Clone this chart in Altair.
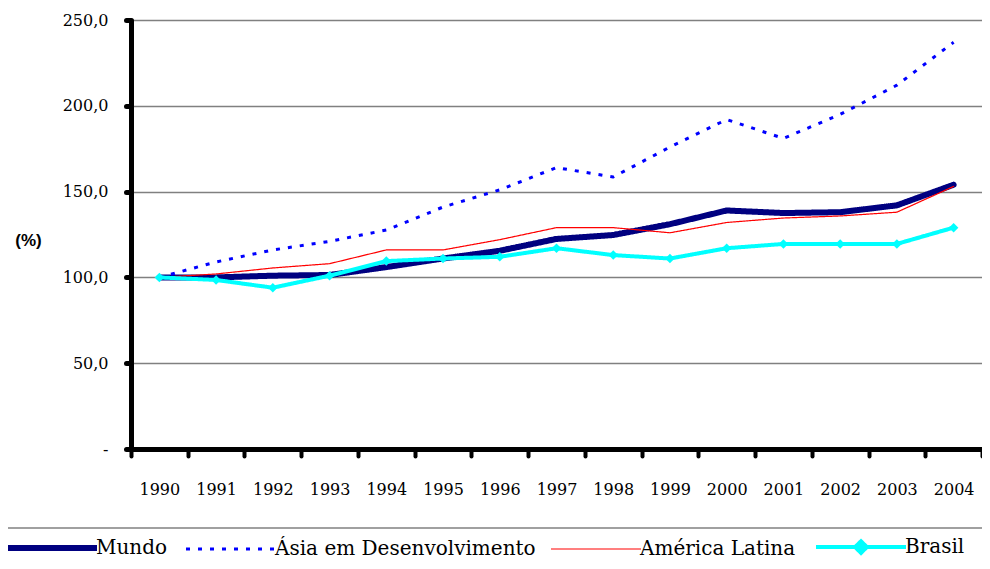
import altair as alt
import pandas as pd

years = [str(y) for y in range(1990, 2005)]
series_names = ["Mundo", "Ásia em Desenvolvimento", "América Latina", "Brasil"]
mundo = [100, 100, 101, 101.4, 106, 111, 115.5, 122.4, 124.7, 131, 139, 137.5, 138, 142, 154]
asia = [100, 109, 116, 121, 127.6, 141, 151, 164, 158.5, 176, 192, 181, 195, 212, 237]
latina = [100, 102, 105.5, 108, 116, 116, 122, 129, 129, 126, 132, 134.6, 135.8, 138, 153]
brasil = [100, 98.5, 94, 101, 109.5, 111, 112, 117, 113, 111, 117, 119.5, 119.5, 119.5, 129]

colors = ["#000080", "#0000FF", "#FF0000", "#00FFFF"]
dashes = [[1, 0], [4, 8], [1, 0], [1, 0]]
widths = [6, 3, 1.2, 4]
caps = ["round", "butt", "round", "round"]

SERIF = "DejaVu Serif"

rows = []
for name, vals in zip(series_names, [mundo, asia, latina, brasil]):
    for y, v in zip(years, vals):
        rows.append({"ano": y, "valor": v, "serie": name})
df = pd.DataFrame(rows)

x_enc = alt.X(
    "ano:O",
    bandPosition=0.5,
    scale=alt.Scale(type="band", paddingInner=0, paddingOuter=0),
    axis=alt.Axis(
        title=None, labelAngle=0, tickBand="extent", domainWidth=5, domainColor="black",
        tickColor="black", tickWidth=4, tickSize=7, tickCap="round",
        labelFont=SERIF, labelFontSize=16, labelColor="black",
        labelPadding=25, labelBaseline="top",
    ),
)
y_enc = alt.Y(
    "valor:Q",
    scale=alt.Scale(domain=[0, 250], nice=False),
    axis=alt.Axis(
        values=[0, 50, 100, 150, 200, 250],
        labelExpr="datum.value == 0 ? '-' : replace(format(datum.value, '.1f'), '.', ',')",
        title="(%)", titleAngle=0, titleX=-103, titleY=220, titleAlign="center",
        titleBaseline="middle", titleFont="Liberation Sans", titleFontSize=17,
        titleFontWeight="bold", titleColor="black",
        domainWidth=5, domainColor="black", tickColor="black", tickWidth=5, tickSize=5,
        tickCap="round", labelFont=SERIF, labelFontSize=16, labelColor="black",
        labelPadding=18, grid=True, gridColor="#808080", gridWidth=1.5,
    ),
)

w_expr = " : ".join(f"datum.value == '{n}' ? {w}" for n, w in zip(series_names, widths)) + " : 1"
line_path = "M-1,0H9"
brasil_path = "M-1,0H9M4,-0.65L4.65,0L4,0.65L3.35,0Z"
legend = alt.Legend(
    title=None, orient="none", legendX=-125, legendY=517, direction="horizontal",
    symbolType={"expr": f"datum.value == 'Brasil' ? '{brasil_path}' : '{line_path}'"},
    symbolSize=324,
    symbolStrokeWidth={"expr": w_expr},
    symbolFillColor={"expr": "datum.value == 'Brasil' ? '#00FFFF' : 'transparent'"},
    labelFont=SERIF, labelFontSize=20, labelLimit=500,
    labelColor="black", labelOffset=70, columnPadding=12, padding=0,
)
color_enc = alt.Color("serie:N", scale=alt.Scale(domain=series_names, range=colors), legend=legend)
dash_enc = alt.StrokeDash("serie:N", scale=alt.Scale(domain=series_names, range=dashes), legend=legend)

layers = []
for name, w, cap in zip(series_names, widths, caps):
    layers.append(
        alt.Chart(df).transform_filter(alt.datum.serie == name)
        .mark_line(strokeCap=cap, strokeJoin="round", strokeWidth=w)
        .encode(x=x_enc, y=y_enc, color=color_enc, strokeDash=dash_enc)
    )
points = (
    alt.Chart(df).transform_filter(alt.datum.serie == "Brasil")
    .mark_point(shape="diamond", filled=True, size=90, opacity=1)
    .encode(x=x_enc, y=y_enc, color=alt.Color("serie:N", scale=alt.Scale(domain=series_names, range=colors), legend=None))
)
separator = (
    alt.Chart(pd.DataFrame({"s": [0]}))
    .mark_rule(color="#808080", strokeWidth=1.5)
    .encode(x=alt.value(-131), x2=alt.value(860), y=alt.value(508))
)

chart = (
    alt.layer(*layers, points, separator)
    .properties(
        width=851, height=429,
        autosize=alt.AutoSizeParams(type="none"),
        padding={"left": 123, "top": 12, "right": 0, "bottom": 112},
    )
    .configure_view(stroke=None)
    .configure(background="white")
)

chart.save("out.html", embed_options={"renderer": "svg", "actions": False})
